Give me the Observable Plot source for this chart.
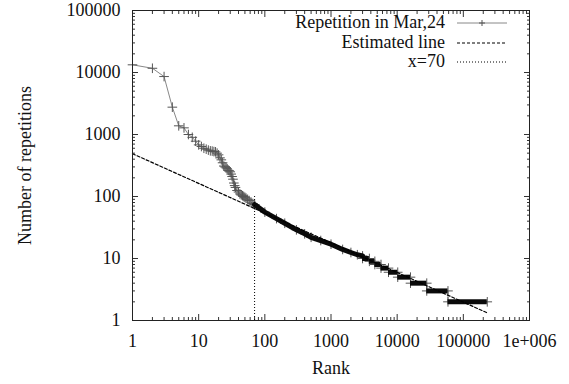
<!DOCTYPE html>
<html><head><meta charset="utf-8">
<script src="https://cdn.jsdelivr.net/npm/d3@7"></script>
<script src="https://cdn.jsdelivr.net/npm/@observablehq/plot@0.6"></script>
<style>
body{margin:0;background:#fff;}
#wrap{position:relative;width:569px;height:384px;font-family:'Liberation Serif','DejaVu Serif',serif;}
.legtext{position:absolute;font-family:'Liberation Serif','DejaVu Serif',serif;font-size:18px;line-height:20px;color:#111;white-space:nowrap;text-align:right;}
.legsample{position:absolute;}
svg text{font-family:'Liberation Serif','DejaVu Serif',serif;}
</style></head><body><div id="wrap"></div>
<script>
// ---- data ----
const headRank  = [1,2,3,4,5,6,7,8,9,10,11,12,13,14,15,16,17,18,19,20,21,22,23,24,25,26,27,28,29,30,31,32,33,34,35,36,38,40,42,44,46,48,50,52,55,58,62,66,70];
const headValue = [13300,11700,8600,2760,1380,1280,1000,900,780,680,640,600,580,560,545,540,530,525,500,470,420,390,350,310,300,290,280,265,260,250,230,210,190,165,150,140,125,118,110,106,103,100,97,94,90,86,81,77,74];
const bandRank  = [70,100,150,200,300,400,500,700,1000,1500,2000,2500,3000];
const bandValue = [74,56,44,37,29,25,22,19.5,17,14,12.5,11.5,11];
const stepValue = [10,9,8,7,6,5,4,3,2];
const stepStart = [3000,3800,4600,5700,7400,10200,15900,28000,58600];
const stepEnd   = [3800,4600,5700,7400,10200,15900,28000,58600,230000];
const estRank  = [1,229000];
const estValue = [490,1.33];
const cutRank = [70], cutFrom = [1], cutTo = [100];
const xTicks = [1,10,100,1000,10000,100000,1000000];
const xTickLabels = ["1","10","100","1000","10000","100000","1e+006"];
const yTicks = [1,10,100,1000,10000,100000];
const yTickLabels = ["1","10","100","1000","10000","100000"];
const seriesLabels = ["Repetition in Mar,24","Estimated line","x=70"];
const xLabel = "Rank", yLabel = "Number of repetitions";

// ---- build tables ----
const head = headRank.map((r,i)=>({rank:r, value:headValue[i]}));
const band = bandRank.map((r,i)=>({rank:r, value:bandValue[i]}));
const steps = stepValue.map((v,i)=>({value:v, start:stepStart[i], end:stepEnd[i]}));
const stepPts = steps.flatMap(s=>[{rank:s.start, value:s.value},{rank:s.end, value:s.value}]);
const all = head.concat(band.slice(1), stepPts);
const est = estRank.map((r,i)=>({rank:r, value:estValue[i]}));
const cut = cutRank.map((r,i)=>({rank:r, from:cutFrom[i], to:cutTo[i]}));
const minorOf = majors => majors.slice(0,-1).flatMap(m=>[2,3,4,5,6,7,8,9].map(k=>k*m));
const xMinor = minorOf(xTicks), yMinor = minorOf(yTicks);
const blank = () => "";

const serif = "'Liberation Serif','DejaVu Serif',serif";
const tickStroke = "#333";
const chart = Plot.plot({
  width:569, height:384,
  marginLeft:132, marginRight:40, marginTop:10, marginBottom:64,
  style:{fontFamily:serif, fontSize:"18px", background:"#fff", color:"#111"},
  x:{type:"log", domain:[1,1e6]},
  y:{type:"log", domain:[1,1e5]},
  marks:[
    Plot.axisX({ticks:xTicks, anchor:"bottom", tickSize:0, tickPadding:14, label:null, tickFormat:d=>xTickLabels[xTicks.indexOf(d)]}),
    Plot.axisY({ticks:yTicks, anchor:"left", tickSize:0, tickPadding:12, label:null, tickFormat:d=>yTickLabels[yTicks.indexOf(d)]}),
    Plot.axisX({ticks:xTicks, anchor:"bottom", tickSize:-6, label:null, tickFormat:blank, stroke:tickStroke}),
    Plot.axisX({ticks:xMinor, anchor:"bottom", tickSize:-3, label:null, tickFormat:blank, stroke:tickStroke}),
    Plot.axisX({ticks:xTicks, anchor:"top", tickSize:-6, label:null, tickFormat:blank, stroke:tickStroke}),
    Plot.axisX({ticks:xMinor, anchor:"top", tickSize:-3, label:null, tickFormat:blank, stroke:tickStroke}),
    Plot.axisY({ticks:yTicks, anchor:"left", tickSize:-6, label:null, tickFormat:blank, stroke:tickStroke}),
    Plot.axisY({ticks:yMinor, anchor:"left", tickSize:-3, label:null, tickFormat:blank, stroke:tickStroke}),
    Plot.axisY({ticks:yTicks, anchor:"right", tickSize:-6, label:null, tickFormat:blank, stroke:tickStroke}),
    Plot.axisY({ticks:yMinor, anchor:"right", tickSize:-3, label:null, tickFormat:blank, stroke:tickStroke}),
    // data: thin line + markers, then dense black band on top
    Plot.line(all, {x:"rank", y:"value", stroke:"#888", strokeWidth:1}),
    Plot.dot(head.concat(band, stepPts), {x:"rank", y:"value", symbol:"plus", r:3.2, stroke:"#555", strokeWidth:1}),
    Plot.line(band, {x:"rank", y:"value", stroke:"#0a0a0a", strokeWidth:5, strokeLinejoin:"round"}),
    Plot.ruleY(steps, {y:"value", x1:"start", x2:"end", stroke:"#0a0a0a", strokeWidth:5}),
    Plot.line(est, {x:"rank", y:"value", stroke:"#000", strokeWidth:1.2, strokeDasharray:"3,2"}),
    Plot.ruleX(cut, {x:"rank", y1:"from", y2:"to", stroke:"#000", strokeWidth:1, strokeDasharray:"1,2"}),
    Plot.frame({stroke:"#222", strokeWidth:1}),
    Plot.text([xLabel], {text:d=>d, frameAnchor:"bottom", lineAnchor:"middle", dy:48, fontSize:18, fill:"#111"}),
    Plot.text([yLabel], {text:d=>d, frameAnchor:"left", textAnchor:"middle", lineAnchor:"middle", dx:-107, rotate:-90, fontSize:18, fill:"#111"})
  ]
});
const wrap = document.getElementById("wrap");
wrap.appendChild(chart);

// legend (inside plot, top right)
const styles = [
  {stroke:"#888", dash:null, marker:true, width:1},
  {stroke:"#000", dash:"3,2", marker:false, width:1.2},
  {stroke:"#000", dash:"1,2", marker:false, width:1}
];
seriesLabels.forEach((lab,i)=>{
  const cy = 23 + i*19.5;
  const t = document.createElement("div");
  t.className = "legtext";
  t.textContent = lab;
  t.style.right = (569-445)+"px";
  t.style.top = (cy-11)+"px";
  wrap.appendChild(t);
  const s = d3.create("svg").attr("class","legsample").attr("width",52).attr("height",12)
    .style("left","456px").style("top",(cy-6)+"px");
  s.append("line").attr("x1",1).attr("x2",51).attr("y1",6).attr("y2",6)
    .attr("stroke",styles[i].stroke).attr("stroke-width",styles[i].width)
    .attr("stroke-dasharray",styles[i].dash);
  if (styles[i].marker) s.append("path").attr("d","M26,3V9M23,6H29").attr("stroke","#555");
  wrap.appendChild(s.node());
});
</script></body></html>
